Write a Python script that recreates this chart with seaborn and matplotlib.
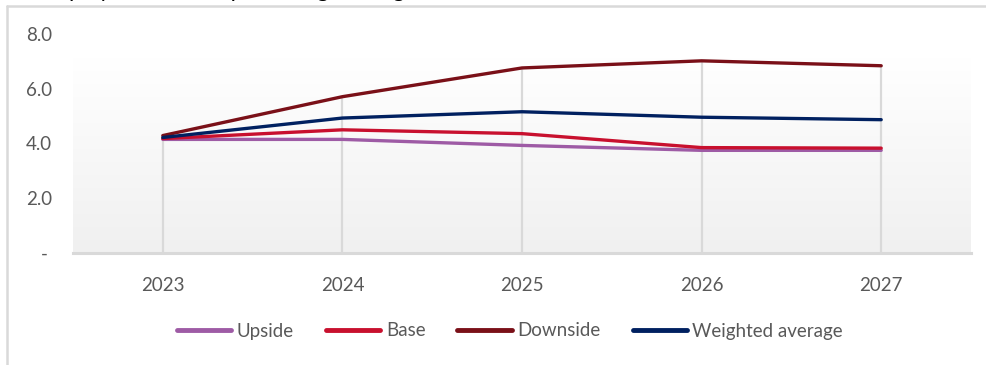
import numpy as np
import pandas as pd
import matplotlib
matplotlib.use("Agg")
import matplotlib.pyplot as plt
from matplotlib.lines import Line2D
import seaborn as sns

years = ["2023", "2024", "2025", "2026", "2027"]
upside = [4.15, 4.15, 3.93, 3.75, 3.75]
base = [4.18, 4.50, 4.36, 3.85, 3.83]
downside = [4.29, 5.71, 6.76, 7.02, 6.84]
weighted = [4.22, 4.93, 5.16, 4.96, 4.87]
series_names = ["Upside", "Base", "Downside", "Weighted average"]
colors = ["#9E5BA5", "#C8102E", "#7A1018", "#002060"]
yticks = [0, 2, 4, 6, 8]
ytick_labels = ["- ", "2.0", "4.0", "6.0", "8.0"]

df = pd.DataFrame({"year": years * 4,
                   "x": list(range(len(years))) * 4,
                   "value": upside + base + downside + weighted,
                   "series": sum([[n] * len(years) for n in series_names], [])})

sns.set_theme(style="white")
plt.rcParams["font.family"] = ["Lato", "DejaVu Sans"]

fig = plt.figure(figsize=(9.87, 3.65), dpi=100)
ax = fig.add_axes([73 / 987, 1 - 253 / 365, (971 - 73) / 987, (253 - 34) / 365])

# gradient background
grad = np.linspace(0, 1, 256).reshape(-1, 1)
cmap = matplotlib.colors.LinearSegmentedColormap.from_list("g", ["#ffffff", "#f0f0f0"])
ax.imshow(grad, extent=[-0.5, 4.5, 0, 7.1], aspect="auto", cmap=cmap, origin="upper", zorder=0)

# drop lines
maxv = df.groupby("x")["value"].max()
ax.vlines(maxv.index, 0, maxv.values, color="#d9d9d9", lw=1.6, zorder=1)

sns.lineplot(data=df, x="x", y="value", hue="series", hue_order=series_names,
             palette=colors, lw=2.4, ax=ax, legend=False, zorder=3)

ax.set_xlim(-0.5, 4.5)
ax.set_ylim(0, 8)
ax.set_xticks(range(len(years)))
ax.set_xticklabels(years)
ax.set_yticks(yticks)
ax.set_yticklabels(ytick_labels)
ax.set_xlabel("")
ax.set_ylabel("")
for s in ["top", "right", "left"]:
    ax.spines[s].set_visible(False)
ax.spines["bottom"].set_color("#d9d9d9")
ax.spines["bottom"].set_linewidth(2.2)
ax.tick_params(axis="x", length=0, pad=17, labelsize=13.5, labelcolor="#595959")
ax.tick_params(axis="y", length=0, pad=15, labelsize=13.5, labelcolor="#595959")
ax.set_facecolor("white")

handles = [Line2D([0], [0], color=c, lw=3.5, solid_capstyle="round") for c in colors]
fig.legend(handles, series_names, loc="center", bbox_to_anchor=(510 / 987, 1 - 331 / 365),
           ncol=4, frameon=False, fontsize=13.5, handlelength=2.9, handletextpad=0.3,
           columnspacing=1.7, labelcolor="#595959")

# chart frame lines
fig.add_artist(Line2D([7 / 987, 7 / 987], [0, 1 - 6 / 365], color="#d9d9d9", lw=1.8))
fig.add_artist(Line2D([7 / 987, 1], [1 - 6 / 365, 1 - 6 / 365], color="#d9d9d9", lw=1.8))

# title above the visible area (only descenders show, as in the reference)
fig.text(10 / 987, 1 + 3.5 / 365, "Unemployment rate – percentage change", fontsize=16,
         color="black", va="baseline", ha="left")

fig.savefig("out.png", dpi=100)
